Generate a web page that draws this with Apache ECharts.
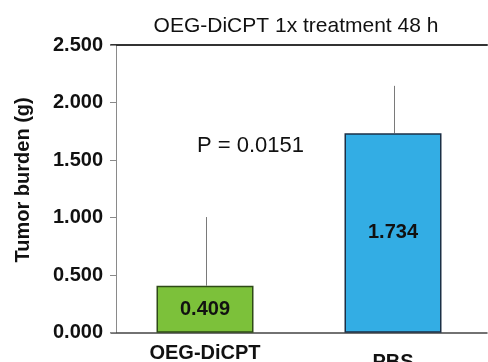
<!DOCTYPE html>
<html>
<head>
<meta charset="utf-8">
<script src="https://cdn.jsdelivr.net/npm/echarts@6/dist/echarts.min.js"></script>
<style>
html,body{margin:0;padding:0;background:#fff;}
#chart{width:488px;height:362px;}
</style>
</head>
<body>
<div id="chart"></div>
<script>
// Tumor burden after a single 48 h treatment
const categories = ['OEG-DiCPT', 'PBS'];
const means = [0.409, 1.734];
const errorTops = [1.005, 2.145];
const barColors = ['#7cc13a', '#33ade4'];
const barBorders = ['#2e4a17', '#1b2f45'];
const yTicks = [0, 0.5, 1, 1.5, 2, 2.5];
const pLabel = 'P = 0.0151';

const chart = echarts.init(document.getElementById('chart'), null, {renderer: 'canvas'});
const FONT = 'Liberation Sans, Arial, sans-serif';

chart.setOption({
  animation: false,
  backgroundColor: '#fff',
  title: {
    text: 'OEG-DiCPT 1x treatment 48 h',
    left: 291, top: 11, textAlign: 'center',
    textStyle: {fontFamily: FONT, fontSize: 21, fontWeight: 'normal', color: '#111'}
  },
  grid: {left: 111, right: 1, top: 45, bottom: 29.3, containLabel: false, outerBoundsMode: 'none'},
  xAxis: [{
    type: 'category',
    data: categories,
    axisLine: {lineStyle: {color: '#444', width: 1.5}},
    axisTick: {show: false},
    axisLabel: {
      interval: 0, margin: 11,
      formatter: (v, i) => i === 0 ? '{a|' + v + '}' : '{b|' + v + '}',
      rich: {
        a: {fontFamily: FONT, fontSize: 20, fontWeight: 'bold', color: '#111'},
        b: {fontFamily: FONT, fontSize: 20, fontWeight: 'bold', color: '#111', padding: [9, 0, 0, 0]}
      }
    }
  }, {
    type: 'category',
    position: 'top',
    data: categories,
    axisLine: {lineStyle: {color: '#333', width: 2}},
    axisTick: {show: false},
    axisLabel: {show: false}
  }],
  yAxis: {
    type: 'value',
    min: 0, max: 2.5, interval: 0.5,
    offset: -5,
    name: 'Tumor burden (g)',
    nameLocation: 'middle',
    nameGap: 83,
    nameTextStyle: {fontFamily: FONT, fontSize: 20, fontWeight: 'bold', color: '#111', padding: [0, 0, 0, 18]},
    axisLine: {show: true, lineStyle: {color: '#8a8a8a', width: 1}},
    axisTick: {show: true, length: 6, lineStyle: {color: '#8a8a8a'}},
    splitLine: {show: false},
    axisLabel: {
      margin: 13,
      fontFamily: FONT, fontSize: 20, fontWeight: 'bold', color: '#111',
      formatter: v => yTicks.includes(v) ? v.toFixed(3) : ''
    }
  },
  series: [{
    type: 'bar',
    barWidth: 97,
    data: means.map((v, i) => ({
      value: v,
      itemStyle: {color: barColors[i], borderColor: barBorders[i], borderWidth: 1.5}
    })),
    label: {
      show: true, position: 'inside',
      fontFamily: FONT, fontSize: 20, fontWeight: 'bold', color: '#111',
      formatter: p => p.value.toFixed(3)
    },
    z: 3
  }, {
    // upward-only error whiskers
    type: 'custom',
    data: categories.map((c, i) => [i, means[i], errorTops[i]]),
    renderItem: (params, api) => {
      const base = api.coord([api.value(0), api.value(1)]);
      const top = api.coord([api.value(0), api.value(2)]);
      const x = Math.round(base[0] + 1) + 0.5;
      return {
        type: 'line',
        shape: {x1: x, y1: base[1], x2: x, y2: top[1]},
        style: {stroke: '#7a7a7a', lineWidth: 1}
      };
    },
    z: 2
  }],
  graphic: [{
    type: 'text',
    left: 197, top: 135,
    style: {text: pLabel, fontFamily: FONT, fontSize: 22, fill: '#111'}
  }]
});
</script>
</body>
</html>
